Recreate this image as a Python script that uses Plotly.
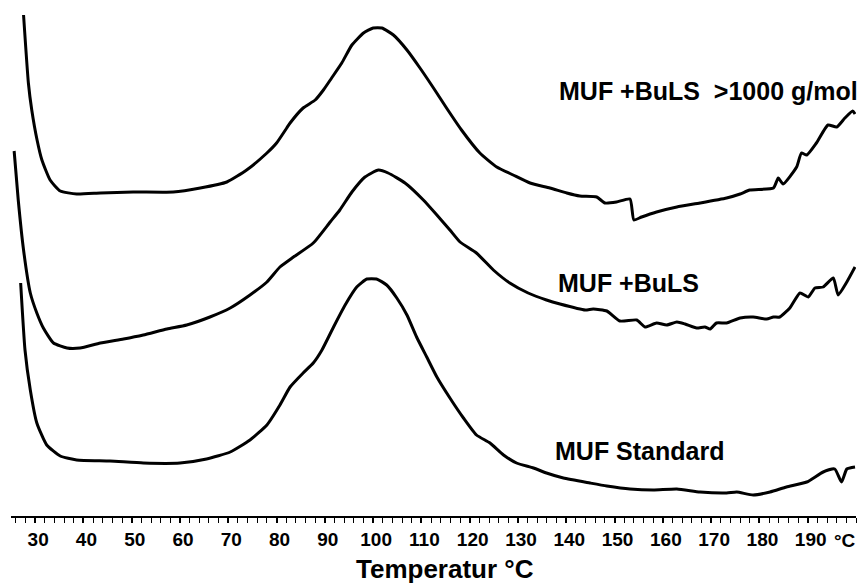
import plotly.graph_objects as go

# DSC heating scans of MUF resins: temperature (°C) and heat flow (arbitrary units, curves offset)
temp_buls_1000 = [27.6, 28.6, 29.3, 30.4, 31.4, 33.1, 35.2, 38.6, 43.5, 50.3, 58.6, 64.2, 69.7,
                  73.8, 78.0, 80.0, 82.1, 82.8, 85.5, 88.0, 89.7, 91.4, 93.5, 95.6, 98.0, 100.0,
                  101.8, 104.2, 107.0, 109.7, 112.5, 115.2, 118.3, 122.1, 125.6, 129.0, 132.5,
                  136.6, 140.1, 142.8, 146.3, 148.0, 150.4, 153.2, 154.0, 155.6, 158.7, 162.9,
                  167.7, 173.2, 176.0, 178.0, 182.9, 183.9, 184.9, 187.7, 188.7, 189.8, 191.8,
                  194.2, 196.0, 197.7, 199.3, 199.8]
flow_buls_1000 = [50.1, 43.3, 40.6, 37.6, 35.6, 33.6, 32.5, 32.2, 32.3, 32.4, 32.4, 32.8, 33.4,
                  34.6, 36.3, 37.3, 38.8, 39.3, 40.8, 41.6, 42.6, 43.8, 45.3, 47.1, 48.3, 48.8,
                  48.8, 48.1, 46.6, 44.8, 42.8, 40.8, 38.6, 36.3, 34.9, 34.1, 33.3,
                  32.8, 32.3, 32.0, 31.9, 31.3, 31.4, 31.7, 29.6, 29.9, 30.4, 30.9,
                  31.3, 31.8, 32.2, 32.6, 32.8, 33.8, 33.2, 34.9, 36.3, 36.1, 37.3,
                  39.1, 38.9, 39.8, 40.5, 40.2]

temp_buls = [25.65, 26.5, 27.6, 29.0, 30.35, 31.7, 33.8, 36.6, 39.3, 43.5, 48.3, 52.4, 57.3,
             61.4, 66.2, 70.4, 74.5, 78.0, 80.7, 83.5, 87.6, 91.1, 93.1, 95.6, 98.3, 101.1,
             103.1, 106.6, 110.4, 113.2, 115.9, 118.0, 121.4, 124.9, 128.3, 132.1, 135.9,
             138.7, 143.9, 145.6, 148.4, 151.1, 154.6, 156.3, 158.7, 160.8, 162.9, 164.6,
             167.0, 168.7, 169.8, 171.1, 173.2, 176.0, 178.7, 181.5, 182.9, 184.2, 186.3,
             188.4, 190.1, 191.5, 193.2, 195.3, 196.3, 198.1, 199.8]
flow_buls = [36.5, 31.6, 26.6, 22.3, 20.3, 18.8, 17.3, 16.8, 16.8, 17.3, 17.7, 18.1, 18.7,
             19.1, 19.9, 20.8, 22.1, 23.4, 24.9, 25.9, 27.3, 29.4, 30.6, 32.4, 33.9, 34.6,
             34.3, 33.3, 31.6, 30.1, 28.6, 27.4, 26.3, 24.6, 23.3, 22.3, 21.6,
             21.2, 20.6, 20.7, 20.5, 19.5, 19.6, 18.9, 19.3, 19.1, 19.4, 19.2,
             18.8, 18.9, 18.7, 19.3, 19.3, 19.8, 19.9, 19.7, 19.9, 19.9, 20.8,
             22.3, 21.9, 22.8, 22.9, 23.8, 22.1, 23.4, 24.9]

temp_standard = [27.0, 27.9, 29.0, 30.35, 32.4, 35.2, 38.6, 45.5, 52.4, 60.0, 65.5, 70.4, 74.5,
                 78.0, 80.7, 82.8, 85.5, 87.6, 89.4, 91.8, 94.2, 96.6, 98.7, 100.7, 102.8,
                 104.9, 107.0, 109.0, 111.1, 113.2, 115.9, 118.7, 121.4, 124.2, 127.0, 129.7,
                 133.2, 135.9, 139.4, 144.9, 148.4, 153.2, 158.0, 162.9, 167.7, 173.2, 175.3,
                 178.7, 182.2, 185.6, 189.8, 193.2, 195.6, 197.0, 198.1, 199.8]
flow_standard = [23.3, 16.6, 12.6, 9.3, 7.1, 6.0, 5.6, 5.5, 5.3, 5.3, 5.7, 6.4, 7.6,
                 9.1, 11.1, 12.9, 14.3, 15.3, 16.6, 18.9, 21.1, 22.9, 23.7, 23.7, 23.1,
                 21.8, 20.1, 17.9, 15.9, 13.9, 11.8, 9.8, 8.1, 7.3, 6.1, 5.3,
                 4.8, 4.3, 3.8, 3.3, 3.0, 2.7, 2.6, 2.7, 2.4, 2.3, 2.4,
                 2.1, 2.4, 2.9, 3.4, 4.4, 4.7, 3.4, 4.7, 4.9]

curve_names = ["MUF +BuLS \u00a0>1000 g/mol", "MUF +BuLS", "MUF Standard"]
label_temps = [138.1, 137.9, 137.2]
label_flows = [42.55, 23.3, 6.5]

tick_values = list(range(30, 200, 10))
tick_labels = [str(v) for v in tick_values]
unit_label = "°C"
unit_temp = 197.7
axis_title = "Temperatur °C"

FONT = "Liberation Sans, Arial, sans-serif"

fig = go.Figure()
for xs, ys, name in [(temp_buls_1000, flow_buls_1000, curve_names[0]),
                     (temp_buls, flow_buls, curve_names[1]),
                     (temp_standard, flow_standard, curve_names[2])]:
    fig.add_trace(go.Scatter(x=xs, y=ys, mode="lines", name=name,
                             line=dict(color="black", width=3, shape="spline", smoothing=0.5),
                             showlegend=False, cliponaxis=False))

for name, tx, ty in zip(curve_names, label_temps, label_flows):
    fig.add_annotation(x=tx, y=ty, xref="x", yref="y", text=name, showarrow=False,
                       xanchor="left", yanchor="middle",
                       font=dict(family=FONT, size=25, color="black", weight="bold"))

# unit label placed on the axis line level of the tick labels
fig.add_annotation(x=unit_temp, y=0, xref="x", yref="paper", text=unit_label,
                   showarrow=False, xanchor="center", yanchor="middle", yshift=-24,
                   font=dict(family=FONT, size=19, color="black", weight="bold"))

fig.add_annotation(x=0.5136, y=0, xref="paper", yref="paper", text=axis_title,
                   showarrow=False, xanchor="center", yanchor="middle", yshift=-53,
                   font=dict(family=FONT, size=26, color="black", weight="bold"))

fig.update_layout(
    width=867, height=583,
    margin=dict(l=11, r=11, t=0, b=67),
    paper_bgcolor="white", plot_bgcolor="white",
    xaxis=dict(range=[25, 200], showgrid=False, zeroline=False,
               showline=True, linecolor="black", linewidth=1.5,
               tickmode="array", tickvals=tick_values, ticktext=tick_labels,
               ticks="outside", ticklen=5, tickwidth=1.5, tickcolor="black",
               ticklabelshift=3,
               tickfont=dict(family=FONT, size=19, color="black", weight="bold"),
               minor=dict(tickmode="linear", tick0=0, dtick=2, ticks="outside",
                          ticklen=5, tickwidth=1.2, tickcolor="black")),
    yaxis=dict(range=[0, 51.6], visible=False),
)

fig.write_html("out.html")
